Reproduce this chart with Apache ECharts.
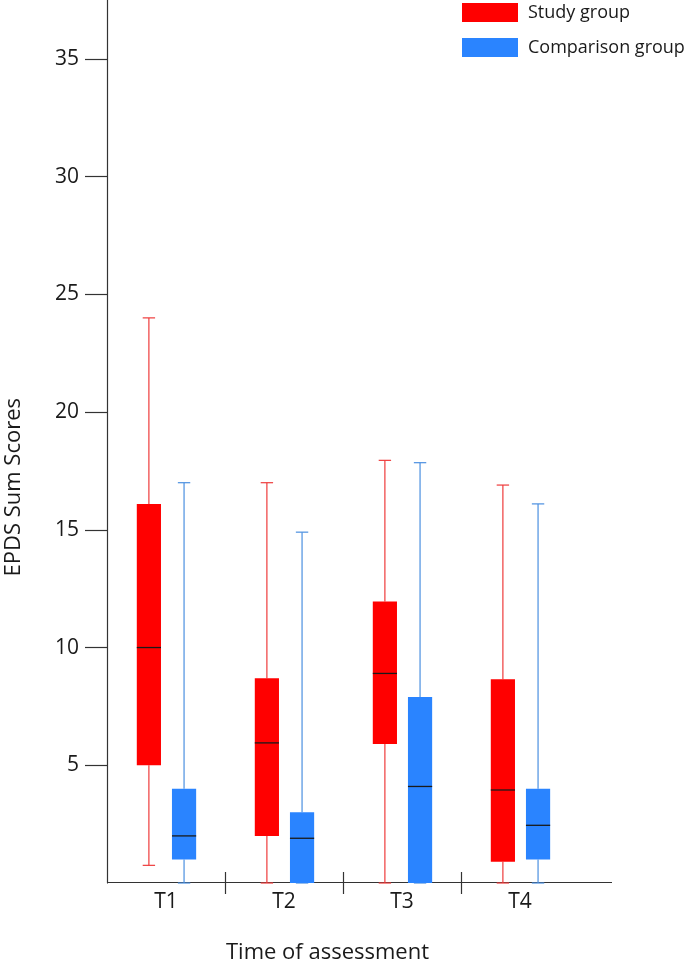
<!DOCTYPE html>
<html>
<head>
<meta charset="utf-8">
<script src="https://cdn.jsdelivr.net/npm/echarts@6/dist/echarts.min.js"></script>
<style>
  html, body { margin: 0; padding: 0; background: #fff; }
  #chart { width: 691px; height: 966px; }
</style>
</head>
<body>
<div id="chart"></div>
<script>
// categories / tick labels
const categories = ['T1', 'T2', 'T3', 'T4'];
const yTicks = [5, 10, 15, 20, 25, 30, 35];
const separators = [1, 2, 3]; // band boundaries between time points

// study group: whisker low, q1, median, q3, whisker high
const studyLow = [0.75, 0, 0, 0];
const studyQ1 = [5, 2, 5.9, 0.9];
const studyMedian = [10, 5.95, 8.9, 3.95];
const studyQ3 = [16.1, 8.7, 11.95, 8.65];
const studyHigh = [24, 17, 17.95, 16.9];

// comparison group
const compLow = [0, 0, 0, 0];
const compQ1 = [1, 0, 0, 1];
const compMedian = [2, 1.9, 4.1, 2.45];
const compQ3 = [4, 3, 7.9, 4];
const compHigh = [17, 14.9, 17.85, 16.1];

const chart = echarts.init(document.getElementById('chart'));
const font = 'Open Sans';
const axisColor = '#333';

const toRows = (lo, q1, md, q3, hi) =>
  categories.map((c, i) => [i, lo[i], q1[i], md[i], q3[i], hi[i]]);

// draws one box with whiskers, offset within the category band
const makeRenderer = (offset, fill, whisker) => (params, api) => {
  const band = api.size([1, 0])[0];
  const cx = api.coord([api.value(0), 0])[0] + band * offset;
  const lo = api.coord([api.value(0), api.value(1)])[1];
  const q1 = api.coord([api.value(0), api.value(2)])[1];
  const md = api.coord([api.value(0), api.value(3)])[1];
  const q3 = api.coord([api.value(0), api.value(4)])[1];
  const hi = api.coord([api.value(0), api.value(5)])[1];
  const bw = band * 0.205;
  const cw = band * 0.105;
  const ws = { stroke: whisker, lineWidth: 1.2 };
  return {
    type: 'group',
    children: [
      { type: 'line', shape: { x1: cx, y1: q3, x2: cx, y2: hi }, style: ws },
      { type: 'line', shape: { x1: cx, y1: q1, x2: cx, y2: lo }, style: ws },
      { type: 'line', shape: { x1: cx - cw / 2, y1: hi, x2: cx + cw / 2, y2: hi }, style: ws },
      { type: 'line', shape: { x1: cx - cw / 2, y1: lo, x2: cx + cw / 2, y2: lo }, style: ws },
      { type: 'rect', shape: { x: cx - bw / 2, y: q3, width: bw, height: q1 - q3 }, style: { fill: fill } },
      { type: 'line', shape: { x1: cx - bw / 2, y1: md, x2: cx + bw / 2, y2: md }, style: { stroke: '#1a1a1a', lineWidth: 1.3 } }
    ]
  };
};

// helper axis over the same width, only used for the separator ticks
const sepAxis = (inside) => ({
  type: 'value',
  position: 'bottom',
  min: 0,
  max: categories.length,
  axisLine: { show: false },
  splitLine: { show: false },
  axisLabel: { show: false },
  axisTick: {
    show: true,
    inside: inside,
    length: 11,
    customValues: separators,
    lineStyle: { color: axisColor, width: 1.2 }
  }
});

const option = {
  backgroundColor: '#fff',
  animation: false,
  textStyle: { fontFamily: font, color: '#1a1a1a' },
  grid: { left: 107, top: 0, right: 112, bottom: 83 },
  legend: {
    left: 462,
    top: 3,
    orient: 'vertical',
    icon: 'rect',
    itemWidth: 56,
    itemHeight: 19,
    itemGap: 16,
    padding: 0,
    textStyle: { fontSize: 18, fontFamily: font, color: '#1a1a1a', padding: [0, 0, 0, 5] },
    data: ['Study group', 'Comparison group']
  },
  xAxis: [
    {
      type: 'category',
      data: categories,
      axisLine: { show: false },
      axisTick: { show: false },
      axisLabel: { fontSize: 21, fontFamily: font, color: '#1a1a1a', margin: 9 }
    },
    sepAxis(false),
    sepAxis(true)
  ],
  yAxis: {
    type: 'value',
    min: 0,
    max: 37.5,
    interval: 5,
    splitLine: { show: false },
    axisLine: { show: true, lineStyle: { color: axisColor, width: 1.2 } },
    axisTick: { show: true, length: 22, customValues: yTicks, lineStyle: { color: axisColor, width: 1.2 } },
    axisLabel: {
      fontSize: 21,
      fontFamily: font,
      color: '#1a1a1a',
      margin: 28,
      customValues: yTicks
    }
  },
  series: [
    {
      name: 'Study group',
      type: 'custom',
      itemStyle: { color: '#ff0000' },
      renderItem: makeRenderer(-0.145, '#ff0000', '#ee3b3b'),
      encode: { x: 0, y: [1, 2, 3, 4, 5] },
      data: toRows(studyLow, studyQ1, studyMedian, studyQ3, studyHigh)
    },
    {
      name: 'Comparison group',
      type: 'custom',
      itemStyle: { color: '#2a84ff' },
      renderItem: makeRenderer(0.153, '#2a84ff', '#4a8fe0'),
      encode: { x: 0, y: [1, 2, 3, 4, 5] },
      data: toRows(compLow, compQ1, compMedian, compQ3, compHigh)
    }
  ]
};

chart.setOption(option);

// the x axis line runs a little past the last category, so it is drawn as one line
const origin = chart.convertToPixel({ gridIndex: 0 }, [0, 0]);
const bandHalf = (chart.convertToPixel({ xAxisIndex: 0 }, 1) - chart.convertToPixel({ xAxisIndex: 0 }, 0)) / 2;
const lineY = Math.round(origin[1]) - 0.5;
chart.setOption({
  graphic: [
    {
      type: 'line',
      shape: { x1: origin[0] - bandHalf, y1: lineY, x2: 612, y2: lineY },
      style: { stroke: axisColor, lineWidth: 1.2 }
    },
    {
      type: 'text',
      left: 226,
      top: 942,
      style: { text: 'Time of assessment', fontSize: 22, fontFamily: font, fill: '#1a1a1a' }
    },
    {
      type: 'text',
      left: 3,
      top: 398,
      rotation: Math.PI / 2,
      style: { text: 'EPDS Sum Scores', fontSize: 22, fontFamily: font, fill: '#1a1a1a' }
    }
  ]
});
</script>
</body>
</html>
